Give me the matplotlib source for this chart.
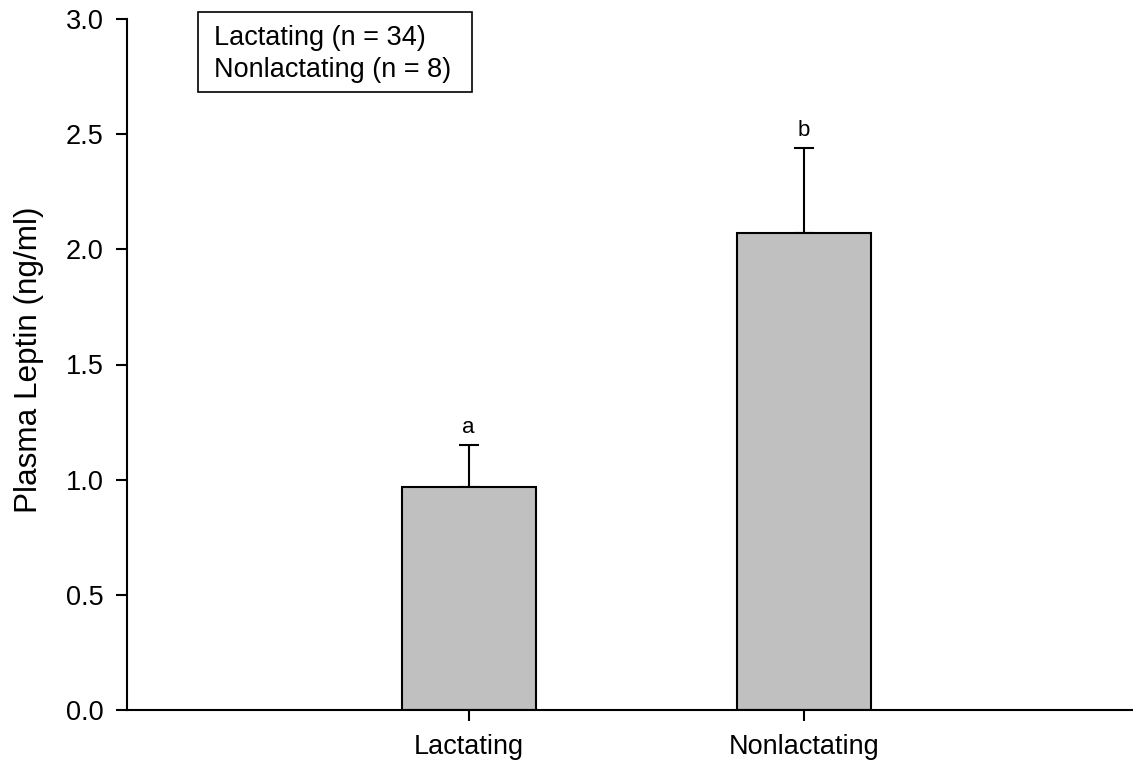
import matplotlib
matplotlib.use("Agg")
import matplotlib.pyplot as plt
from matplotlib.patches import Rectangle

plt.rcParams['font.family'] = ['Liberation Sans', 'DejaVu Sans']

categories = ["Lactating", "Nonlactating"]
means = [0.97, 2.07]
sems = [0.18, 0.37]
sig_letters = ["a", "b"]
legend_lines = ["Lactating (n = 34)", "Nonlactating (n = 8)"]
yticks = [0.0, 0.5, 1.0, 1.5, 2.0, 2.5, 3.0]

W, H = 1133, 768
fig = plt.figure(figsize=(W/100, H/100), dpi=100)
ax = fig.add_axes([127/W, 58/H, (1132-127)/W, (710-19)/H])

x = [1, 2]
ax.bar(x, means, width=0.4, color="#c0c0c0", edgecolor="black", linewidth=1.5, zorder=2)
ax.errorbar(x, means, yerr=[[0, 0], sems], fmt="none", ecolor="black",
            elinewidth=1.5, capsize=7.5, capthick=1.5, zorder=1)
for xi, m, s, lab in zip(x, means, sems, sig_letters):
    ax.text(xi, m + s + 0.03, lab, ha="center", va="bottom", fontsize=16)

ax.set_xlim(-0.02, 2.98)
ax.set_ylim(0, 3.0)
ax.set_xticks(x)
ax.set_xticklabels(categories, fontsize=19.5)
ax.set_yticks(yticks)
ax.set_yticklabels([f"{t:.1f}" for t in yticks], fontsize=19.5)
ax.set_ylabel("Plasma Leptin (ng/ml)", fontsize=22.7)
ax.yaxis.set_label_coords(-0.083, 0.507)
ax.tick_params(direction="out", length=8, width=1.5, pad=9)
for side in ["top", "right"]:
    ax.spines[side].set_visible(False)
for side in ["left", "bottom"]:
    ax.spines[side].set_linewidth(1.5)

fig.add_artist(Rectangle((198/W, 1 - 92/H), (472-198)/W, 80/H, transform=fig.transFigure,
                         facecolor="white", edgecolor="black", linewidth=1.2, zorder=5))
fig.text(214/W, 1 - 54/H, "\n".join(legend_lines),
         ha="left", va="center", fontsize=19.5, linespacing=1.3, zorder=6)

fig.savefig("out.png", dpi=100)
